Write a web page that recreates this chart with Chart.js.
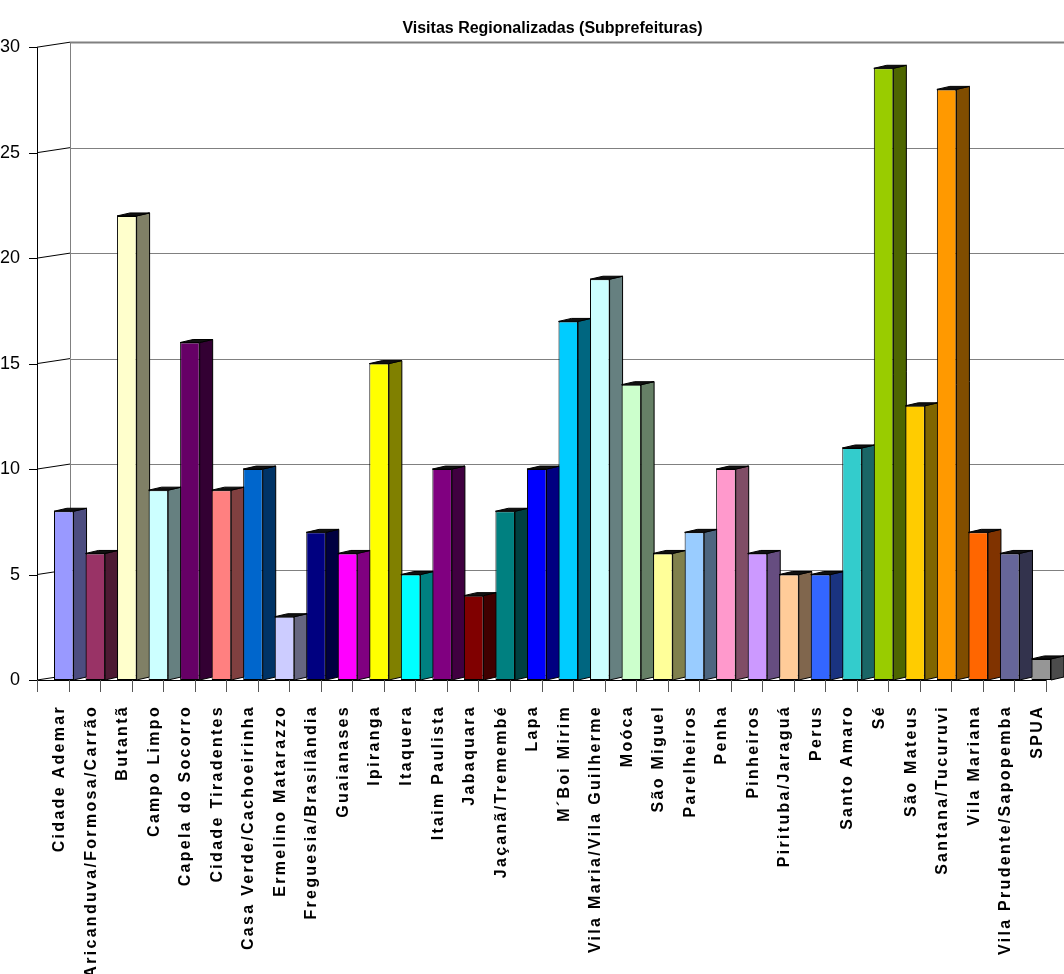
<!DOCTYPE html>
<html>
<head>
<meta charset="utf-8">
<script src="https://cdn.jsdelivr.net/npm/chart.js@4.4.1/dist/chart.umd.min.js"></script>
<style>
    html, body { margin: 0; padding: 0; background: #fff; }
    #wrap { width: 1064px; height: 974px; }
</style>
</head>
<body>
<div id="wrap"><canvas id="grafico"></canvas></div>
<script>
// === Dados ===
const subprefeituras = [
    "Cidade Ademar", "Aricanduva/Formosa/Carrão", "Butantã", "Campo Limpo",
    "Capela do Socorro", "Cidade Tiradentes", "Casa Verde/Cachoeirinha", "Ermelino Matarazzo",
    "Freguesia/Brasilândia", "Guaianases", "Ipiranga", "Itaquera",
    "Itaim Paulista", "Jabaquara", "Jaçanã/Tremembé", "Lapa",
    "M´Boi Mirim", "Vila Maria/Vila Guilherme", "Moóca", "São Miguel",
    "Parelheiros", "Penha", "Pinheiros", "Pirituba/Jaraguá",
    "Perus", "Santo Amaro", "Sé", "São Mateus",
    "Santana/Tucuruvi", "Vila Mariana", "Vila Prudente/Sapopemba", "SPUA"
];
const visitas = [8, 6, 22, 9, 16, 9, 10, 3, 7, 6, 15, 5, 10, 4, 8, 10, 17, 19, 14, 6, 7, 10, 6, 5, 5, 11, 29, 13, 28, 7, 6, 1];
const ticksY = [0, 5, 10, 15, 20, 25, 30];

// paleta padrão do Excel
const coresFrente = [
    "#9999FF", "#993366", "#FFFFCC", "#CCFFFF", "#660066", "#FF8080", "#0066CC", "#CCCCFF",
    "#000080", "#FF00FF", "#FFFF00", "#00FFFF", "#800080", "#800000", "#008080", "#0000FF",
    "#00CCFF", "#CCFFFF", "#CCFFCC", "#FFFF99", "#99CCFF", "#FF99CC", "#CC99FF", "#FFCC99",
    "#3366FF", "#33CCCC", "#99CC00", "#FFCC00", "#FF9900", "#FF6600", "#666699", "#969696"
];

const FONTE = '"Liberation Sans Narrow", "Arial Narrow", "Liberation Sans", sans-serif';

// profundidade da "cena 3D"
const PAREDE_DX = 33, PAREDE_DY = -5;   // parede do fundo
const LADO_DX = 13, LADO_DY = -3;       // face lateral das barras
const FRENTE_DX = -11;                  // eixo da frente em relação às barras

function escurecer(hex, f) {
    const n = parseInt(hex.slice(1), 16);
    const r = Math.round(((n >> 16) & 255) * f);
    const g = Math.round(((n >> 8) & 255) * f);
    const b = Math.round((n & 255) * f);
    return `rgb(${r},${g},${b})`;
}

// eixo de categorias com espaçamento entre letras
class EixoEspacado extends Chart.CategoryScale {
    drawLabels(area) {
        this.ctx.save();
        this.ctx.letterSpacing = '2.3px';
        super.drawLabels(area);
        this.ctx.restore();
    }
}
EixoEspacado.id = 'eixoEspacado';
EixoEspacado.defaults = Chart.CategoryScale.defaults;
Chart.register(EixoEspacado);

const cena3d = {
    id: 'cena3d',
    beforeDatasetsDraw(chart) {
        const ctx = chart.ctx;
        const sx = chart.scales.x, sy = chart.scales.y;
        const area = chart.chartArea;
        const xFrente = area.left + FRENTE_DX;
        const xParede = xFrente + PAREDE_DX;
        const yZero = sy.getPixelForValue(0);
        const yTopo = sy.getPixelForValue(ticksY[ticksY.length - 1]);

        ctx.save();
        ctx.lineWidth = 1;

        // grade na parede do fundo
        ticksY.forEach(v => {
            const y = Math.round(sy.getPixelForValue(v) + PAREDE_DY) + 0.5;
            ctx.strokeStyle = '#808080';
            ctx.lineWidth = v === ticksY[ticksY.length - 1] ? 2 : 1;
            ctx.beginPath();
            ctx.moveTo(xParede, y);
            ctx.lineTo(chart.width, y);
            ctx.stroke();
        });
        ctx.lineWidth = 1;
        ctx.strokeStyle = '#808080';
        ctx.beginPath();
        ctx.moveTo(xParede + 0.5, yTopo + PAREDE_DY);
        ctx.lineTo(xParede + 0.5, yZero + PAREDE_DY);
        ctx.stroke();

        // linhas de profundidade + marcas do eixo Y
        ctx.strokeStyle = '#000';
        ticksY.forEach(v => {
            const y = sy.getPixelForValue(v);
            ctx.beginPath();
            ctx.moveTo(xFrente, y);
            ctx.lineTo(xParede, y + PAREDE_DY);
            ctx.moveTo(xFrente - 8, Math.round(y) + 0.5);
            ctx.lineTo(xFrente, Math.round(y) + 0.5);
            ctx.stroke();
        });

        // eixos da frente
        const passo = sx.getPixelForValue(1) - sx.getPixelForValue(0);
        const xFim = sx.getPixelForValue(subprefeituras.length - 1) + passo / 2 + FRENTE_DX;
        ctx.beginPath();
        ctx.moveTo(xFrente + 0.5, yTopo);
        ctx.lineTo(xFrente + 0.5, yZero);
        ctx.moveTo(xFrente, Math.round(yZero) + 0.5);
        ctx.lineTo(xFim, Math.round(yZero) + 0.5);
        ctx.stroke();
        ctx.strokeStyle = '#555';
        for (let i = 0; i <= subprefeituras.length; i++) {
            const x = Math.round(sx.getPixelForValue(0) - passo / 2 + i * passo + FRENTE_DX) + 0.5;
            ctx.beginPath();
            ctx.moveTo(x, yZero);
            ctx.lineTo(x, yZero + 12);
            ctx.stroke();
        }

        // faces laterais e topo das barras
        const barras = chart.getDatasetMeta(0).data;
        barras.forEach((b, i) => {
            const esq = b.x - b.width / 2, dir = b.x + b.width / 2;
            const topo = b.y, base = b.base;
            ctx.fillStyle = escurecer(coresFrente[i], 0.5);
            ctx.strokeStyle = '#000';
            ctx.beginPath();
            ctx.moveTo(dir, topo);
            ctx.lineTo(dir + LADO_DX, topo + LADO_DY);
            ctx.lineTo(dir + LADO_DX, base + LADO_DY);
            ctx.lineTo(dir, base);
            ctx.closePath();
            ctx.fill();
            ctx.stroke();

            ctx.fillStyle = '#111';
            ctx.beginPath();
            ctx.moveTo(esq, topo);
            ctx.lineTo(dir, topo);
            ctx.lineTo(dir + LADO_DX, topo + LADO_DY);
            ctx.lineTo(esq + LADO_DX, topo + LADO_DY);
            ctx.closePath();
            ctx.fill();
            ctx.stroke();
        });
        ctx.restore();
    }
};

new Chart(document.getElementById('grafico'), {
    type: 'bar',
    data: {
        labels: subprefeituras,
        datasets: [{
            data: visitas,
            backgroundColor: coresFrente,
            borderColor: '#000',
            borderWidth: 1,
            borderSkipped: false,
            barPercentage: 0.62,
            categoryPercentage: 1
        }]
    },
    options: {
        responsive: true,
        maintainAspectRatio: false,
        animation: false,
        layout: { padding: { left: 0, right: 7, top: 0, bottom: 0 } },
        plugins: {
            legend: { display: false },
            tooltip: { enabled: false },
            title: {
                display: true,
                text: 'Visitas Regionalizadas (Subprefeituras)',
                fullSize: false,
                color: '#000',
                font: { family: FONTE, size: 16, weight: 'bold' },
                padding: { top: 19, bottom: 9 }
            }
        },
        scales: {
            x: {
                type: 'eixoEspacado',
                grid: { display: false },
                border: { display: false },
                ticks: {
                    autoSkip: false,
                    maxRotation: 90,
                    minRotation: 90,
                    padding: 17,
                    labelOffset: -4,
                    color: '#000',
                    font: { family: FONTE, size: 16, weight: 'bold' }
                },
                afterFit(s) {
                    s.height = 294;
                    s.paddingLeft = 0;
                    s.paddingRight = 0;
                }
            },
            y: {
                min: 0,
                max: 30,
                grid: { display: false },
                border: { display: false },
                ticks: {
                    padding: 20,
                    color: '#000',
                    font: { family: FONTE, size: 18 }
                },
                afterBuildTicks(s) { s.ticks = ticksY.map(v => ({ value: v })); },
                afterFit(s) { s.width = 48; }
            }
        }
    },
    plugins: [cena3d]
});
</script>
</body>
</html>
